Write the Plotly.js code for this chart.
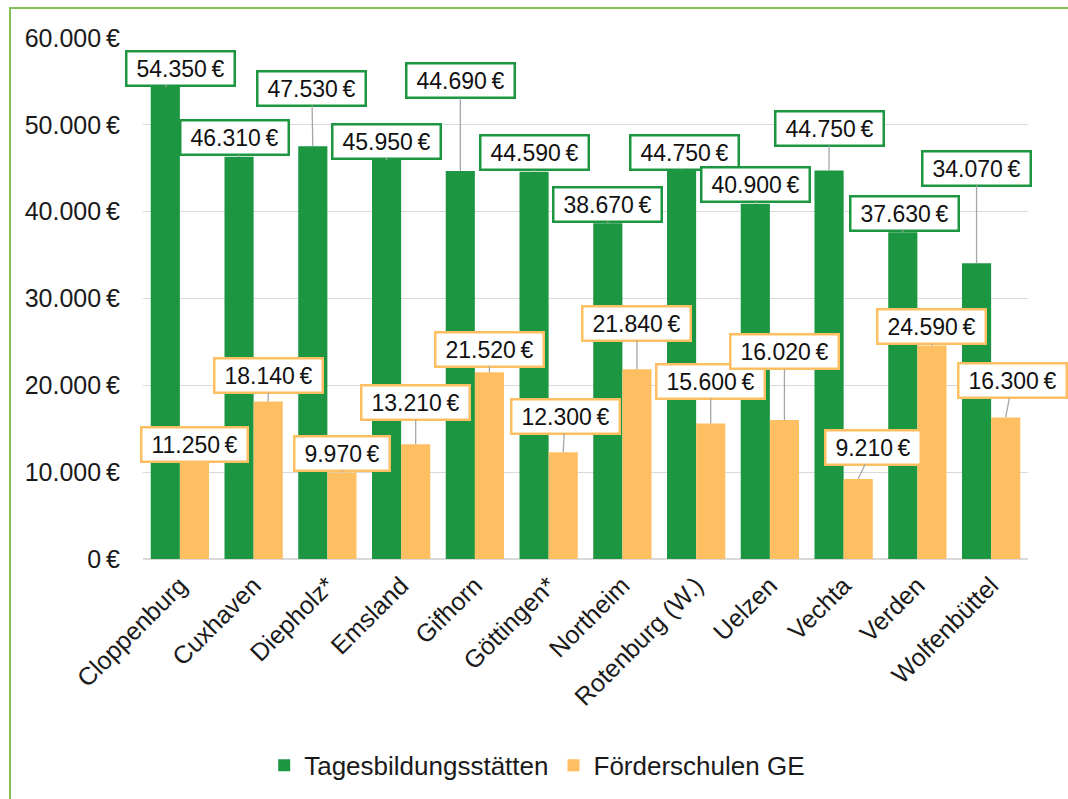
<!DOCTYPE html>
<html>
<head>
<meta charset="utf-8">
<script src="https://cdn.plot.ly/plotly-3.0.1.min.js"></script>
<style>
  html, body { margin: 0; padding: 0; overflow: hidden; background: #fff; }
  #chart { width: 1068px; height: 799px; }
  #frame { position: absolute; left: 9px; top: 7px; width: 1200px; height: 1000px;
           border: 2px solid #86bf58; pointer-events: none; }
</style>
</head>
<body>
<div id="chart"></div>
<div id="frame"></div>
<script>
// ---- data ----
const categories = ["Cloppenburg", "Cuxhaven", "Diepholz*", "Emsland", "Gifhorn", "Göttingen*",
                    "Northeim", "Rotenburg (W.)", "Uelzen", "Vechta", "Verden", "Wolfenbüttel"];
const tagesbildung = [54350, 46310, 47530, 45950, 44690, 44590, 38670, 44750, 40900, 44750, 37630, 34070];
const foerderschulen = [11250, 18140, 9970, 13210, 21520, 12300, 21840, 15600, 16020, 9210, 24590, 16300];
const seriesNames = ["Tagesbildungsstätten", "Förderschulen GE"];
const yTicks = [0, 10000, 20000, 30000, 40000, 50000, 60000];

// ---- label placement (pixel offsets of label boxes from bar tops) ----
const greenOffsets = [[15,-19],[-5,-19],[-1,-58],[0,-19],[0,-90],[0,-19],[0,-19],[3,-18],[0,-19],[0,-42],[2,-19],[0,-95]];
const orangeOffsets = [[0,-17],[0,-26],[0,-19],[0,-42],[0,-23],[2,-36],[0,-46],[0,-42],[0,-68],[15,-32],[0,-19],[7,-37]];

const GREEN = '#1d9641';
const ORANGE = '#fdbf62';
const FONT = 'Liberation Sans, Arial, sans-serif';
const LABEL_SIZE = 23;
const bargap = 0.21;
const half = (1 - bargap) / 4;

function fmt(v) {
  return v.toString().replace(/\B(?=(\d{3})+(?!\d))/g, '.') + '\u202f€';
}
const ctx = document.createElement('canvas').getContext('2d');
ctx.font = LABEL_SIZE + 'px "Liberation Sans"';
function boxWidth(t) { return Math.round(ctx.measureText(t).width + 16); }

const traces = [
  { type: 'bar', name: seriesNames[0], x: categories, y: tagesbildung,
    marker: { color: GREEN }, hoverinfo: 'none' },
  { type: 'bar', name: seriesNames[1], x: categories, y: foerderschulen,
    marker: { color: ORANGE }, hoverinfo: 'none' }
];

const annotations = [];
function addLabels(values, offsets, color, shift) {
  values.forEach((v, i) => {
    const t = fmt(v);
    annotations.push({
      x: i + shift, y: v, xref: 'x', yref: 'y',
      text: t, showarrow: true, arrowhead: 0, arrowwidth: 1.3,
      arrowcolor: '#a6a6a6', standoff: 0, startstandoff: 0,
      ax: offsets[i][0], ay: offsets[i][1],
      width: boxWidth(t), height: 30,
      bgcolor: '#ffffff', bordercolor: color, borderwidth: 2.5, borderpad: 1,
      font: { family: FONT, size: LABEL_SIZE, color: '#111' }
    });
  });
}
addLabels(tagesbildung, greenOffsets, GREEN, -half);
addLabels(foerderschulen, orangeOffsets, ORANGE, half);

const layout = {
  width: 1068, height: 799,
  margin: { l: 143, r: 40, t: 38, b: 240 },
  paper_bgcolor: '#ffffff', plot_bgcolor: '#ffffff',
  separators: ',.',
  barmode: 'group', bargap: bargap, bargroupgap: 0,
  font: { family: FONT, size: 24, color: '#1a1a1a' },
  xaxis: {
    type: 'category', range: [-0.5, categories.length - 0.5], autorange: false,
    tickangle: -45, showgrid: false, showline: false, ticks: '', ticklabelstandoff: 6,
    tickfont: { family: FONT, size: 25, color: '#1a1a1a' }
  },
  yaxis: {
    range: [0, 60000], autorange: false,
    tickvals: yTicks, ticktext: yTicks.map(fmt),
    showgrid: true, gridcolor: '#d9d9d9', gridwidth: 1.3,
    zeroline: true, zerolinecolor: '#d9d9d9', zerolinewidth: 1.3,
    showline: false, ticks: '', ticklabelstandoff: 22,
    tickfont: { family: FONT, size: 25, color: '#1a1a1a' }
  },
  showlegend: true,
  legend: {
    orientation: 'h', xref: 'container', yref: 'container',
    x: 0.503, xanchor: 'center', y: 0.042, yanchor: 'middle',
    font: { family: FONT, size: 26, color: '#1a1a1a' },
    itemwidth: 30, tracegroupgap: 0
  },
  annotations: annotations
};

Plotly.newPlot('chart', traces, layout, { staticPlot: true, displayModeBar: false });
</script>
</body>
</html>
